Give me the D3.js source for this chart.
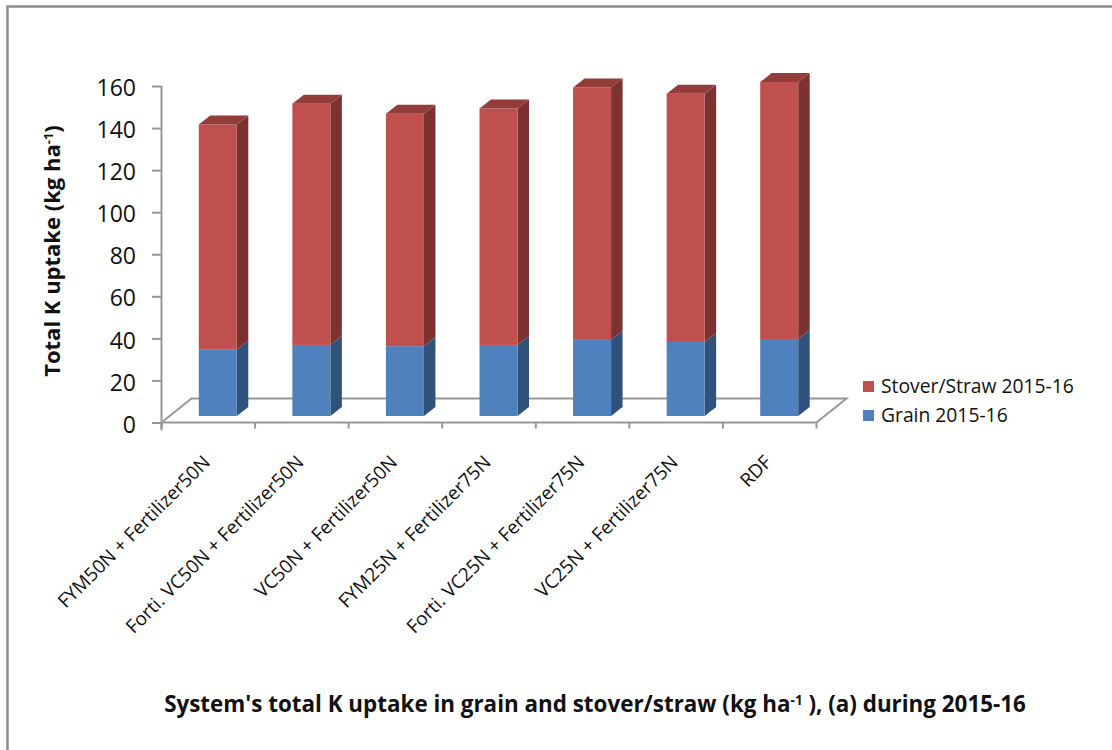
<!DOCTYPE html>
<html><head><meta charset="utf-8">
<script src="https://cdn.jsdelivr.net/npm/d3@7"></script>
<style>
html,body{margin:0;padding:0;background:#fff}
svg{display:block}
text{font-family:"Open Sans",sans-serif;fill:#111}
</style></head><body>
<svg id="c" width="1112" height="750"></svg>
<script>
const categories=["FYM50N + Fertilizer50N","Forti. VC50N + Fertilizer50N","VC50N + Fertilizer50N","FYM25N + Fertilizer75N","Forti. VC25N + Fertilizer75N","VC25N + Fertilizer75N","RDF"];
const grain=[31.5,33.8,33.2,33.8,36.2,35.2,36.6];
const stover=[107.1,114.7,110.5,112.4,120.0,118.0,122.2];
const seriesNames=["Stover/Straw 2015-16","Grain 2015-16"];
const yTicks=[0,20,40,60,80,100,120,140,160];

const svg=d3.select("#c");
const y=d3.scaleLinear().domain([0,160]).range([422.5,86]);
const x=d3.scaleBand().domain(categories).range([161.5,816.5]);
const DX=11.5,DY=9,BW=38,BASE=6.5,SHIFT=9.5;
const cols={g:{f:"#4f81bd",s:"#2f527c",t:"#3d6696"},r:{f:"#c0504d",s:"#7c3230",t:"#933d3b"}};

svg.append("path").attr("d","M7.5,750V6.5H1112").attr("fill","none").attr("stroke","#8c8c8c").attr("stroke-width",2.5);

const fl=svg.append("g").attr("fill","none").attr("stroke","#979797").attr("stroke-width",2);
const fx=30,fy=24;
fl.append("path").attr("d",`M${x.range()[0]},${y(0)}L${x.range()[0]+fx},${y(0)-fy}H${x.range()[1]+fx}L${x.range()[1]},${y(0)}`);

const ax=svg.append("g").attr("transform",`translate(${x.range()[0]},0)`)
 .call(d3.axisLeft(y).tickValues(yTicks).tickSize(9.5).tickPadding(16));
ax.selectAll(".domain").attr("stroke","#979797").attr("stroke-width",2).attr("d",`M0,${y(160)}V${y(0)+8}`);
ax.selectAll("line").attr("stroke","#979797").attr("stroke-width",2);
ax.selectAll("text").attr("dy","0.42em").style("font-family","'Open Sans',sans-serif").style("font-size","23px").attr("fill","#222");

const axb=svg.append("g").attr("transform",`translate(0,${y(0)})`);
axb.append("line").attr("x1",x.range()[0]).attr("x2",x.range()[1]).attr("stroke","#979797").attr("stroke-width",2);
axb.selectAll("line.t").data(d3.range(8)).join("line").attr("class","t")
 .attr("x1",i=>x.range()[0]+i*x.step()).attr("x2",i=>x.range()[0]+i*x.step()).attr("y2",6).attr("stroke","#979797").attr("stroke-width",2);
axb.selectAll("text").data(categories).join("text")
 .attr("transform",d=>`translate(${x(d)+x.step()/2+3},41) rotate(-45)`)
 .attr("text-anchor","end").style("font-size","18.9px").attr("fill","#222").text(d=>d);

function box(g,x0,yTop,yBot,c){
 g.append("path").attr("fill",c.s).attr("d",`M${x0+BW},${yTop}l${DX},${-DY}V${yBot-DY}l${-DX},${DY}Z`);
 g.append("rect").attr("x",x0).attr("y",yTop).attr("width",BW).attr("height",yBot-yTop).attr("fill",c.f);
}
const bars=svg.append("g");
categories.forEach((cat,i)=>{
 const x0=x(cat)+x.step()/2+SHIFT-BW/2;
 const yG=y(grain[i])-BASE, yT=y(grain[i]+stover[i])-BASE, y0=y(0)-BASE;
 const g=bars.append("g");
 box(g,x0,yG,y0,cols.g);
 box(g,x0,yT,yG,cols.r);
 g.append("path").attr("fill",cols.r.t).attr("d",`M${x0},${yT}l${DX},${-DY}h${BW}l${-DX},${DY}Z`);
});

const leg=svg.append("g");
seriesNames.forEach((n,i)=>{
 const ly=386+i*29;
 leg.append("rect").attr("x",863).attr("y",ly-5).attr("width",11).attr("height",11).attr("fill",i?cols.g.f:cols.r.f);
 leg.append("text").attr("x",881).attr("y",ly+7).style("font-size","19.3px").text(n);
});

const yt=svg.append("text").attr("transform","translate(60,251) rotate(-90)").attr("text-anchor","middle").style("font-size","22px").style("font-weight",700);
yt.append("tspan").text("Total K uptake (kg ha");
yt.append("tspan").attr("dy",-7).style("font-size","13px").text("-1");
yt.append("tspan").attr("dy",7).text(")");

const xt=svg.append("text").attr("x",595).attr("y",712).attr("text-anchor","middle").style("font-size","22.4px").style("font-weight",700);
xt.append("tspan").text("System's total K uptake in grain and stover/straw (kg ha");
xt.append("tspan").attr("dy",-7).style("font-size","13.5px").text("-1");
xt.append("tspan").attr("dy",7).text(" ), (a) during 2015-16");
</script></body></html>
